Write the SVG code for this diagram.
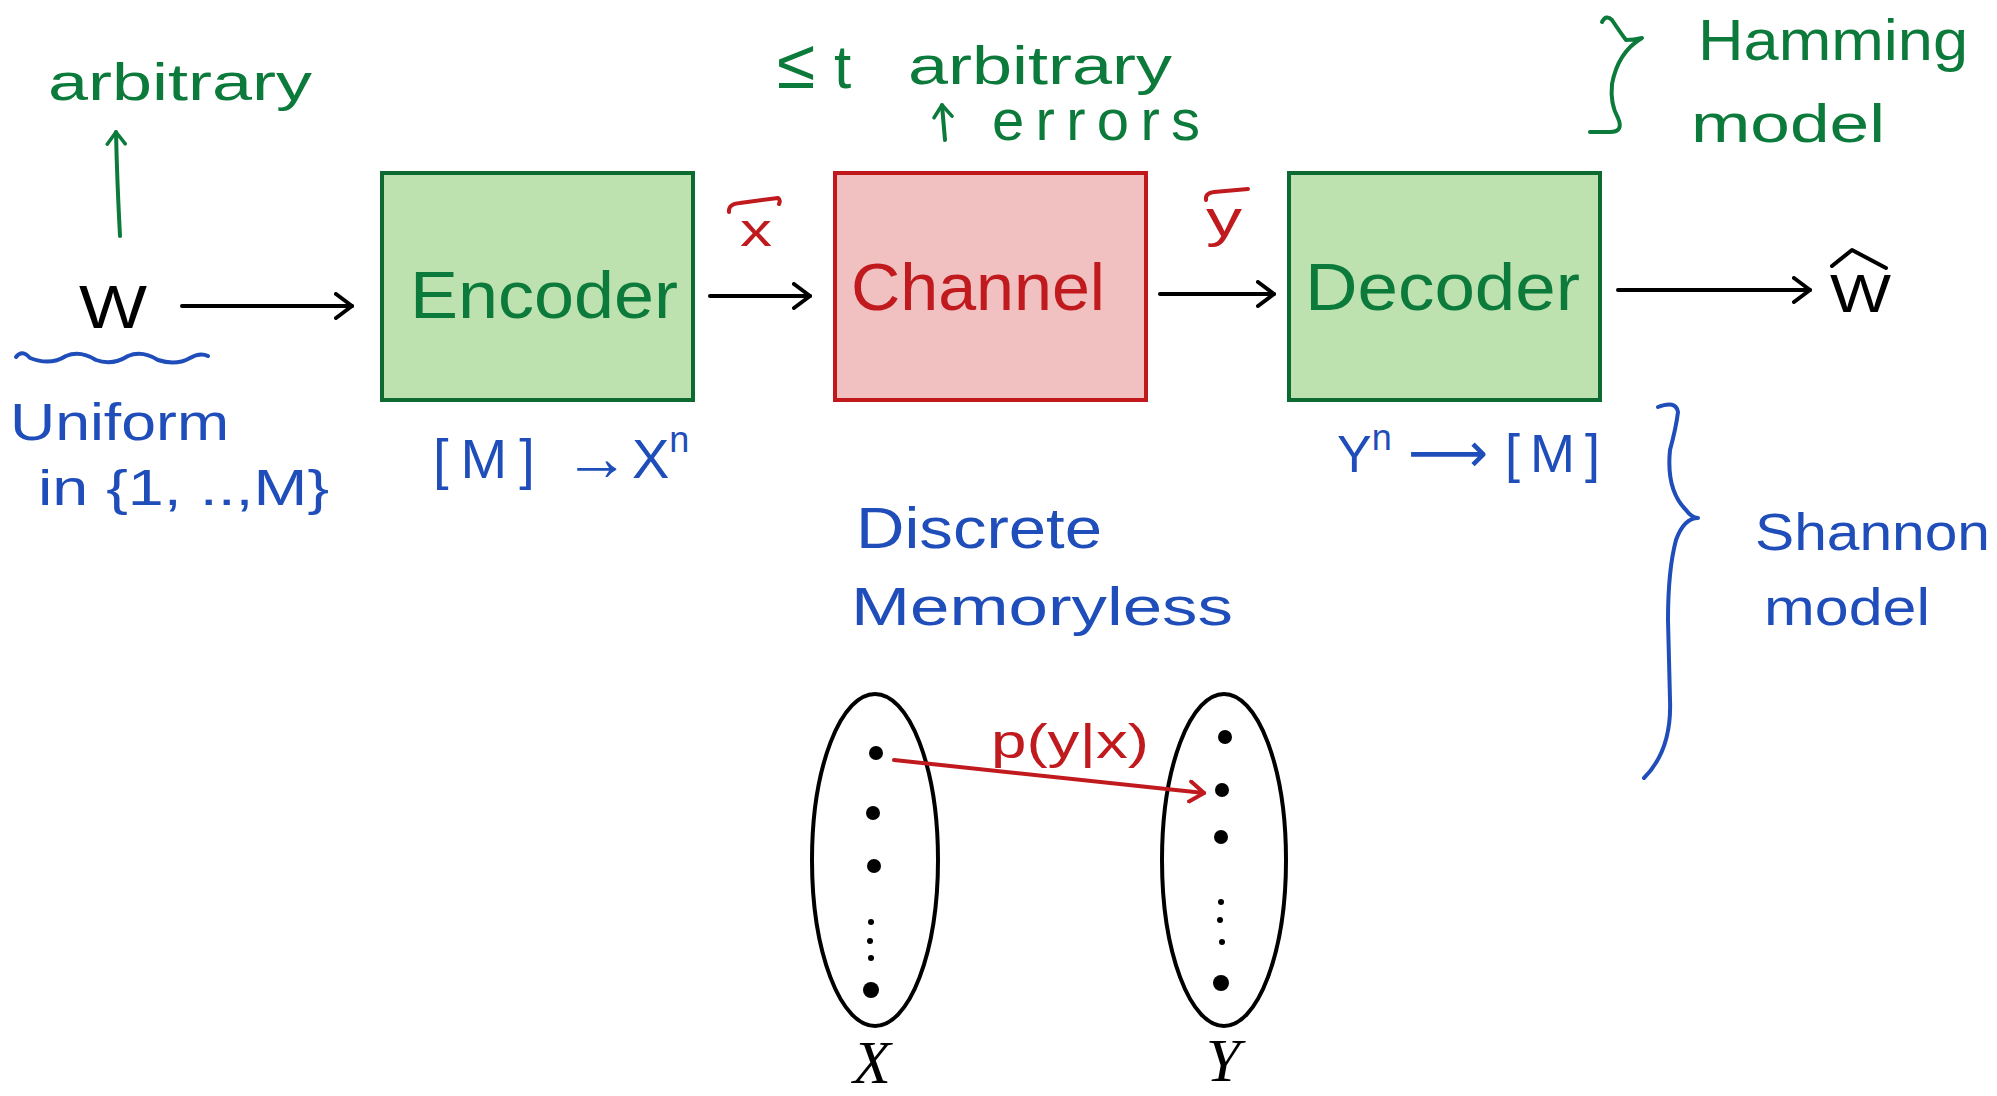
<svg xmlns="http://www.w3.org/2000/svg" width="1997" height="1096" viewBox="0 0 1997 1096">
<style>
  text { font-family: "Liberation Sans", "DejaVu Sans", sans-serif; }
  .g { fill: #0b7a3a; }
  .b { fill: #1f4dba; }
  .r { fill: #c01a1f; }
  .k { fill: #000000; }
  .ln { fill: none; stroke-linecap: round; stroke-linejoin: round; }
  .box-g { fill: #bde2b0; stroke: #0d6b32; stroke-width: 4; }
  .box-r { fill: #f1c1c1; stroke: #c0181b; stroke-width: 4; }
  .ell { fill: none; stroke: #000; stroke-width: 4; }
  .serif { font-family: "Liberation Serif", "DejaVu Serif", serif; font-style: italic; }
</style>
<defs>
  <marker id="ak" viewBox="0 0 20 28" refX="18" refY="14" markerWidth="20" markerHeight="28" markerUnits="userSpaceOnUse" orient="auto">
    <path d="M2,2 L18,14 L2,26" fill="none" stroke="#000" stroke-width="4" stroke-linecap="round" stroke-linejoin="round"/>
  </marker>
  <marker id="ag" viewBox="0 0 16 22" refX="14" refY="11" markerWidth="16" markerHeight="22" markerUnits="userSpaceOnUse" orient="auto">
    <path d="M2,2 L14,11 L2,20" fill="none" stroke="#0b7a3a" stroke-width="3.5" stroke-linecap="round" stroke-linejoin="round"/>
  </marker>
  <marker id="ar" viewBox="0 0 18 24" refX="16" refY="12" markerWidth="18" markerHeight="24" markerUnits="userSpaceOnUse" orient="auto">
    <path d="M2,2 L16,12 L2,22" fill="none" stroke="#c01a1f" stroke-width="4" stroke-linecap="round" stroke-linejoin="round"/>
  </marker>
</defs>
<rect width="1997" height="1096" fill="#ffffff"/>

<!-- Source W -->
<g id="node-W">
  <text class="k" x="79" y="328" font-size="62" textLength="68" lengthAdjust="spacingAndGlyphs">W</text>
  <path class="ln" stroke="#1f4dba" stroke-width="4" d="M16,357 Q22,349 30,358 Q50,366 66,356 Q80,350 96,360 Q112,366 128,356 Q142,350 158,360 Q176,366 190,358 Q200,352 208,356"/>
  <text class="b" x="10" y="440" font-size="52" textLength="219" lengthAdjust="spacingAndGlyphs">Uniform</text>
  <text class="b" x="38" y="505" font-size="50" textLength="291" lengthAdjust="spacingAndGlyphs">in {1, ..,M}</text>
  <text class="g" x="48" y="100" font-size="52" textLength="264" lengthAdjust="spacingAndGlyphs">arbitrary</text>
</g>

<!-- Encoder -->
<g id="node-encoder">
  <rect class="box-g" x="382" y="173" width="311" height="227"/>
  <text class="g" x="410" y="318" font-size="66" textLength="268" lengthAdjust="spacingAndGlyphs">Encoder</text>
  <text class="b" x="433" y="478" font-size="56"><tspan letter-spacing="12">[M]</tspan><tspan x="564" font-size="66" dy="2">→</tspan><tspan x="632" dy="-2">X</tspan><tspan font-size="36" dy="-26">n</tspan></text>
</g>

<!-- Channel -->
<g id="node-channel">
  <rect class="box-r" x="835" y="173" width="311" height="227"/>
  <text class="r" x="851" y="310" font-size="66" textLength="254" lengthAdjust="spacingAndGlyphs">Channel</text>
  <text class="g" x="777" y="88" font-size="70">≤<tspan x="834" font-size="62">t</tspan></text>
  <text class="g" x="908" y="84" font-size="54" textLength="264" lengthAdjust="spacingAndGlyphs">arbitrary</text>
  <text class="g" x="992" y="140" font-size="58" textLength="208" lengthAdjust="spacing">errors</text>
</g>

<!-- Decoder -->
<g id="node-decoder">
  <rect class="box-g" x="1289" y="173" width="311" height="227"/>
  <text class="g" x="1305" y="310" font-size="66" textLength="275" lengthAdjust="spacingAndGlyphs">Decoder</text>
  <text class="b" x="1337" y="472" font-size="52">Y<tspan font-size="36" dy="-22">n</tspan><tspan x="1408" dy="22" font-size="56">⟶</tspan><tspan x="1505" font-size="54" letter-spacing="10">[M]</tspan></text>
</g>

<!-- Estimate W-hat -->
<g id="node-What">
  <text class="k" x="1830" y="312" font-size="54" textLength="61" lengthAdjust="spacingAndGlyphs">W</text>
  <path class="ln" stroke="#000" stroke-width="4" d="M1832,266 L1852,250 L1886,268"/>
</g>

<!-- Signals x-bar, y-bar -->
<g id="label-x">
  <path class="ln" stroke="#c01a1f" stroke-width="4" d="M729,212 Q728,204 740,203 L778,198 Q781,200 779,204"/>
  <text class="r" x="740" y="246" font-size="46" textLength="32" lengthAdjust="spacingAndGlyphs">x</text>
</g>
<g id="label-y">
  <path class="ln" stroke="#c01a1f" stroke-width="4" d="M1206,200 Q1205,193 1214,192 L1248,189"/>
  <text class="r" x="1206" y="236" font-size="52" textLength="36" lengthAdjust="spacingAndGlyphs">y</text>
</g>

<!-- Hamming brace -->
<g id="hamming">
  <path class="ln" stroke="#0b7a3a" stroke-width="4" d="M1602,22 Q1606,14 1612,20 Q1620,32 1626,40 Q1634,40 1642,38 Q1618,52 1612,84 Q1610,104 1618,118 Q1624,132 1610,132 L1590,132"/>
  <text class="g" x="1698" y="60" font-size="58" textLength="270" lengthAdjust="spacingAndGlyphs">Hamming</text>
  <text class="g" x="1691" y="142" font-size="54" textLength="194" lengthAdjust="spacingAndGlyphs">model</text>
</g>

<!-- Shannon brace -->
<g id="shannon">
  <path class="ln" stroke="#1f4dba" stroke-width="4" d="M1658,407 Q1676,400 1678,412 Q1676,428 1670,450 Q1666,490 1686,510 Q1692,518 1698,518 Q1684,518 1676,540 Q1668,570 1668,620 L1670,700 Q1672,750 1644,778"/>
  <text class="b" x="1755" y="550" font-size="52" textLength="235" lengthAdjust="spacingAndGlyphs">Shannon</text>
  <text class="b" x="1764" y="625" font-size="52" textLength="166" lengthAdjust="spacingAndGlyphs">model</text>
</g>

<!-- DMC -->
<g id="dmc-label">
  <text class="b" x="856" y="548" font-size="58" textLength="246" lengthAdjust="spacingAndGlyphs">Discrete</text>
  <text class="b" x="851" y="625" font-size="54" textLength="382" lengthAdjust="spacingAndGlyphs">Memoryless</text>
</g>

<g id="node-X-set">
  <ellipse class="ell" cx="875" cy="860" rx="63" ry="166"/>
  <circle cx="876" cy="753" r="7" fill="#000"/>
  <circle cx="873" cy="813" r="7" fill="#000"/>
  <circle cx="874" cy="866" r="7" fill="#000"/>
  <circle cx="871" cy="922" r="3" fill="#000"/>
  <circle cx="870" cy="941" r="3" fill="#000"/>
  <circle cx="871" cy="958" r="3" fill="#000"/>
  <circle cx="871" cy="990" r="8" fill="#000"/>
  <text class="serif k" x="872" y="1083" font-size="62" text-anchor="middle">X</text>
</g>

<g id="node-Y-set">
  <ellipse class="ell" cx="1224" cy="860" rx="62" ry="166"/>
  <circle cx="1225" cy="737" r="7" fill="#000"/>
  <circle cx="1222" cy="790" r="7" fill="#000"/>
  <circle cx="1221" cy="837" r="7" fill="#000"/>
  <circle cx="1221" cy="902" r="3" fill="#000"/>
  <circle cx="1220" cy="920" r="3" fill="#000"/>
  <circle cx="1222" cy="942" r="3" fill="#000"/>
  <circle cx="1221" cy="983" r="8" fill="#000"/>
  <text class="serif k" x="1223" y="1081" font-size="62" text-anchor="middle">Y</text>
</g>

<!-- Connectors -->
<g id="connectors" class="ln">
  <line x1="182" y1="306" x2="352" y2="306" stroke="#000" stroke-width="4" marker-end="url(#ak)"/>
  <line x1="710" y1="296" x2="810" y2="296" stroke="#000" stroke-width="4" marker-end="url(#ak)"/>
  <line x1="1160" y1="294" x2="1274" y2="294" stroke="#000" stroke-width="4" marker-end="url(#ak)"/>
  <line x1="1618" y1="290" x2="1810" y2="290" stroke="#000" stroke-width="4" marker-end="url(#ak)"/>
  <path d="M120,236 Q117,180 116,132" stroke="#0b7a3a" stroke-width="4" fill="none" marker-end="url(#ag)"/>
  <line x1="945" y1="140" x2="942" y2="105" stroke="#0b7a3a" stroke-width="4" marker-end="url(#ag)"/>
  <line x1="894" y1="760" x2="1204" y2="793" stroke="#c01a1f" stroke-width="4" marker-end="url(#ar)"/>
  <text class="r" x="991" y="758" font-size="48" textLength="158" lengthAdjust="spacingAndGlyphs">p(y|x)</text>
</g>
</svg>
